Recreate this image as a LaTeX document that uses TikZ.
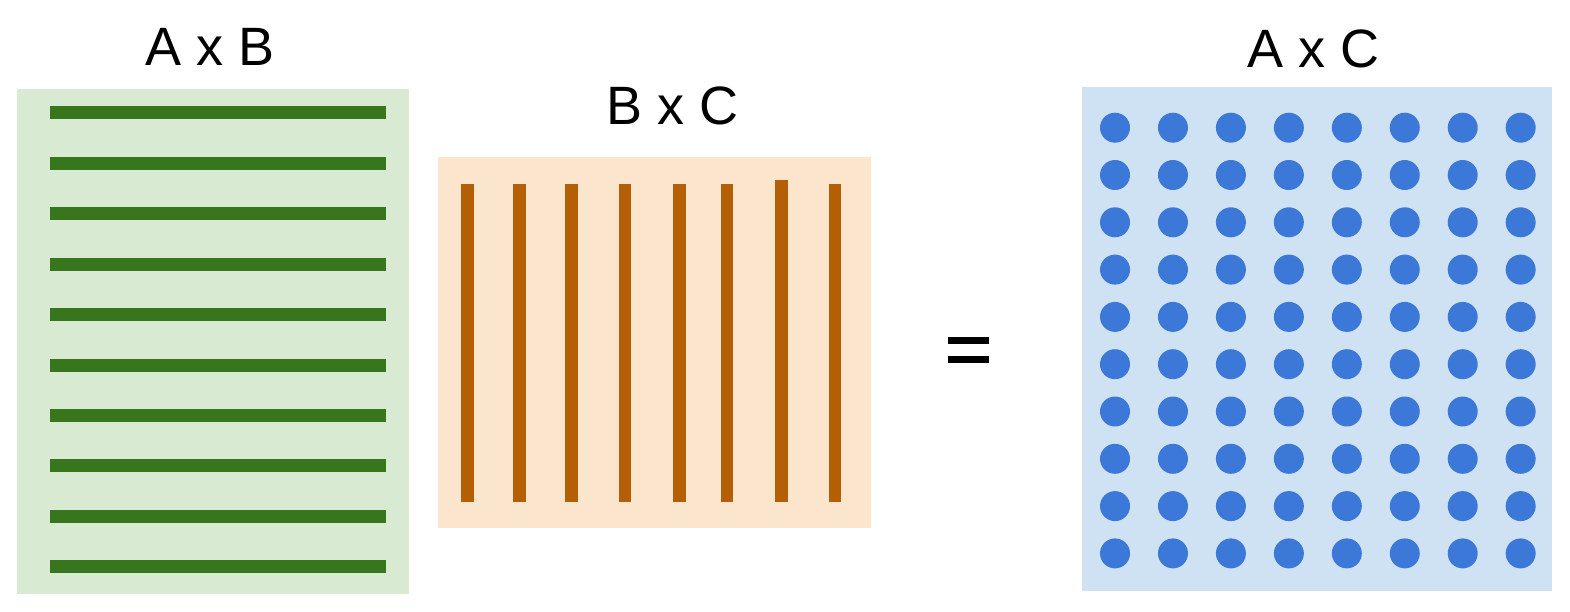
\documentclass[tikz,border=0pt]{standalone}
\usepackage{fontspec}
\setmainfont{Liberation Sans}
\definecolor{gfill}{HTML}{D9EAD3}
\definecolor{gbar}{HTML}{38761D}
\definecolor{ofill}{HTML}{FCE5CD}
\definecolor{obar}{HTML}{B45F06}
\definecolor{bfill}{HTML}{CFE2F3}
\definecolor{bdot}{HTML}{3C78D8}
\tikzset{
  lbl/.style={inner sep=0pt, anchor=base, font=\fontsize{54}{60}\selectfont},
}
\begin{document}
\begin{tikzpicture}[x=1pt,y=-1pt]
\useasboundingbox (0,0) rectangle (1570,612);
% labels
\node[lbl] (lab) at (210.5,66) {A x B};
\node[lbl] (lbc) at (672.5,125) {B x C};
\node[lbl] (lac) at (1313.5,68) {A x C};
% A x B
\fill[gfill] (17,89) rectangle (409,594);
\foreach \i in {0,...,9} {
  \fill[gbar] (50,{113+50.4*\i-6.5}) rectangle (386,{113+50.4*\i+6.5});
}
% B x C
\fill[ofill] (437.5,157) rectangle (871,528);
\foreach \x/\t in {467.7/184,519.3/184,571.7/184,625/184,679.3/184,727/184,781.7/180,835/184} {
  \fill[obar] ({\x-6.3},\t) rectangle ({\x+6.3},502);
}
% equals
\fill[black] (948,337) rectangle (989,344);
\fill[black] (948,355.5) rectangle (989,362.5);
% A x C
\fill[bfill] (1082,87) rectangle (1552,591);
\foreach \i in {0,...,9} {
  \foreach \j in {0,...,7} {
    \fill[bdot] ({1115+57.95*\j},{127.7+47.3*\i}) circle (15);
  }
}
\end{tikzpicture}
\end{document}
